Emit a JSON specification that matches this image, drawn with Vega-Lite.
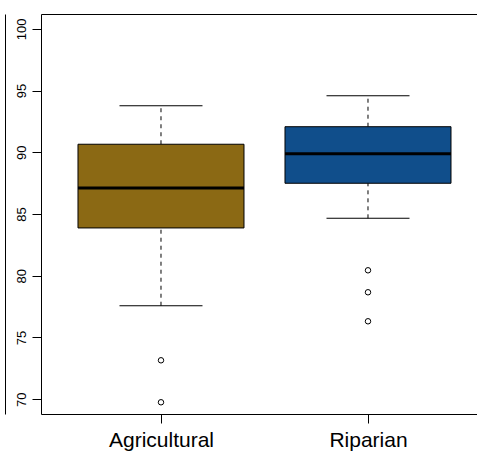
{
  "$schema": "https://vega.github.io/schema/vega-lite/v6.json",
  "width": 436,
  "height": 400,
  "autosize": {"type": "none"},
  "padding": {"left": 41, "top": 14, "right": 0, "bottom": 42},
  "background": "white",
  "config": {
    "view": {"stroke": null},
    "axis": {"grid": false, "domainColor": "black", "tickColor": "black", "labelColor": "black", "labelFont": "Liberation Sans", "domainWidth": 1, "tickWidth": 1}
  },
  "datasets": {
    "boxes": [
      {"group": "Agricultural", "lower": 77.57, "q1": 83.87, "median": 87.11, "q3": 90.65, "upper": 93.77},
      {"group": "Riparian", "lower": 84.65, "q1": 87.49, "median": 89.89, "q3": 92.07, "upper": 94.58}
    ],
    "outliers": [
      {"group": "Agricultural", "value": 73.15},
      {"group": "Agricultural", "value": 69.75},
      {"group": "Riparian", "value": 80.44},
      {"group": "Riparian", "value": 78.66},
      {"group": "Riparian", "value": 76.31}
    ]
  },
  "data": {"name": "boxes"},
  "layer": [
    {
      "mark": {"type": "rule", "color": "black", "strokeWidth": 1, "strokeDash": [4, 4]},
      "encoding": {
        "x": {"field": "group", "type": "nominal", "scale": {"type": "point", "domain": ["Agricultural", "Riparian"], "padding": 0.5531, "align": 0.524},
          "axis": {"orient": "bottom", "title": null, "labelAngle": 0, "labelFontSize": 21, "tickSize": 9, "labelPadding": 6, "domain": true}},
        "y": {"field": "lower", "type": "quantitative", "scale": {"domain": [68.8, 101.2], "nice": false, "zero": false},
          "axis": {"orient": "left", "title": null, "values": [70, 75, 80, 85, 90, 95, 100], "labelAngle": 270, "labelFontSize": 13, "tickSize": 9, "labelPadding": 4, "domain": true}},
        "y2": {"field": "q1"}
      }
    },
    {
      "mark": {"type": "rule", "color": "black", "strokeWidth": 1, "strokeDash": [4, 4]},
      "encoding": {
        "x": {"field": "group", "type": "nominal", "axis": null},
        "y": {"field": "q3", "type": "quantitative", "axis": null},
        "y2": {"field": "upper"}
      }
    },
    {
      "mark": {"type": "tick", "color": "black", "opacity": 1, "size": 83, "thickness": 1},
      "encoding": {
        "x": {"field": "group", "type": "nominal", "axis": null},
        "y": {"field": "lower", "type": "quantitative", "axis": null}
      }
    },
    {
      "mark": {"type": "tick", "color": "black", "opacity": 1, "size": 83, "thickness": 1},
      "encoding": {
        "x": {"field": "group", "type": "nominal", "axis": null},
        "y": {"field": "upper", "type": "quantitative", "axis": null}
      }
    },
    {
      "mark": {"type": "bar", "size": 166, "stroke": "black", "strokeWidth": 1, "opacity": 1},
      "encoding": {
        "x": {"field": "group", "type": "nominal",
          "axis": {"orient": "top", "title": null, "labels": false, "ticks": false, "domain": true}},
        "y": {"field": "q1", "type": "quantitative",
          "axis": {"orient": "left", "offset": 36, "title": null, "labels": false, "ticks": false, "domain": true}},
        "y2": {"field": "q3"},
        "color": {"field": "group", "type": "nominal", "scale": {"domain": ["Agricultural", "Riparian"], "range": ["#8B6914", "#104E8B"]}, "legend": null}
      }
    },
    {
      "mark": {"type": "tick", "color": "black", "opacity": 1, "size": 166, "thickness": 3},
      "encoding": {
        "x": {"field": "group", "type": "nominal", "axis": null},
        "y": {"field": "median", "type": "quantitative", "axis": null}
      }
    },
    {
      "data": {"name": "outliers"},
      "mark": {"type": "point", "shape": "circle", "filled": false, "stroke": "black", "strokeWidth": 1, "size": 30, "opacity": 1},
      "encoding": {
        "x": {"field": "group", "type": "nominal", "axis": null},
        "y": {"field": "value", "type": "quantitative", "axis": null}
      }
    }
  ],
  "resolve": {"axis": {"x": "independent", "y": "independent"}}
}
